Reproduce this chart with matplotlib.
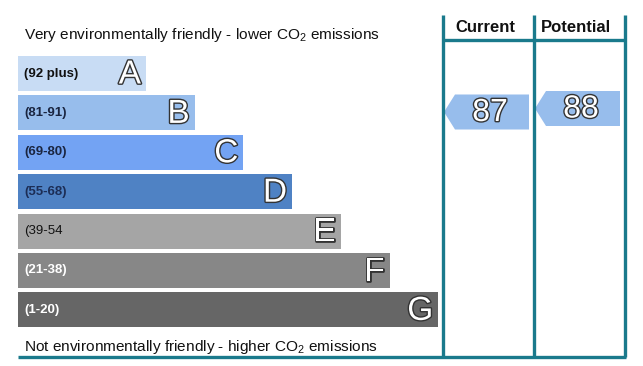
import matplotlib
matplotlib.use("Agg")
import matplotlib.pyplot as plt
from matplotlib.patches import Rectangle, Polygon
import matplotlib.patheffects as pe

plt.rcParams['font.family'] = ['Liberation Sans', 'DejaVu Sans']
plt.rcParams['mathtext.fontset'] = 'custom'
plt.rcParams['mathtext.rm'] = 'Liberation Sans'

# ---- data ----
letters = ['A', 'B', 'C', 'D', 'E', 'F', 'G']
ranges = ['(92 plus)', '(81-91)', '(69-80)', '(55-68)', '(39-54', '(21-38)', '(1-20)']
colors = ['#c8dcf4', '#97bdec', '#73a3f3', '#4f82c4', '#a5a5a5', '#878787', '#666666']
label_colors = ['#111111', '#1a2540', '#1a2540', '#1c2d55', '#111111', 'white', 'white']
label_weights = ['bold', 'bold', 'bold', 'bold', 'normal', 'bold', 'bold']
current_score = 87
potential_score = 88
headers = ['Current', 'Potential']
top_text = 'Very environmentally friendly - lower CO$_2$ emissions'
bottom_text = 'Not environmentally friendly - higher CO$_2$ emissions'

W, H = 643, 366
fig = plt.figure(figsize=(W / 100, H / 100), dpi=100)
ax = fig.add_axes([0, 0, 1, 1])
ax.set_xlim(0, W)
ax.set_ylim(H, 0)
ax.axis('off')

teal = '#1a7a8c'
x0 = 18
bar_h = 35
pitch = 39.4
y_first = 56
w_first = 128
w_step = 48.7

outline = [pe.withStroke(linewidth=2.0, foreground='#333333')]

for i, (let, rng, col, lc, lw_) in enumerate(zip(letters, ranges, colors,
                                                  label_colors, label_weights)):
    y = y_first + i * pitch
    w = w_first + i * w_step
    ax.add_patch(Rectangle((x0, y), w, bar_h, facecolor=col, edgecolor='none'))
    ax.text(x0 + 6, y + bar_h / 2, rng, fontsize=9.5, fontweight=lw_, color=lc,
            ha='left', va='center')
    ax.text(x0 + w - 5, y + bar_h / 2 + 1.5, let, fontsize=24, color='white',
            ha='right', va='center', path_effects=outline)

ax.text(24, 35, top_text, fontsize=11.1, color='#111111', ha='left', va='center')
ax.text(24, 347, bottom_text, fontsize=11.1, color='#111111', ha='left', va='center')

# frame lines
lw = 2.4
for xv in (443, 534, 625):
    ax.plot([xv, xv], [15, 357], color=teal, lw=lw, solid_capstyle='butt')
ax.plot([443, 625], [40, 40], color=teal, lw=lw, solid_capstyle='butt')
ax.plot([18, 626], [357, 357], color=teal, lw=lw, solid_capstyle='butt')

ax.text(485, 28, headers[0], fontsize=12, fontweight='bold', color='#111111',
        ha='center', va='center')
ax.text(576, 28, headers[1], fontsize=12, fontweight='bold', color='#111111',
        ha='center', va='center')


def score_y(s):
    return 112 + (87 - s) * 3.5


def arrow(x_tip, x_right, score):
    yc = score_y(score)
    h = 35
    pts = [(x_tip, yc), (x_tip + 11, yc - h / 2), (x_right, yc - h / 2),
           (x_right, yc + h / 2), (x_tip + 11, yc + h / 2)]
    ax.add_patch(Polygon(pts, closed=True, facecolor='#97bdec', edgecolor='none'))
    ax.text((x_tip + 11 + x_right) / 2 - 2, yc + 1, str(score), fontsize=23,
            color='white', ha='center', va='center', path_effects=outline)


arrow(444, 529, current_score)
arrow(535, 620, potential_score)

fig.savefig('out.png', dpi=100, facecolor='white')
